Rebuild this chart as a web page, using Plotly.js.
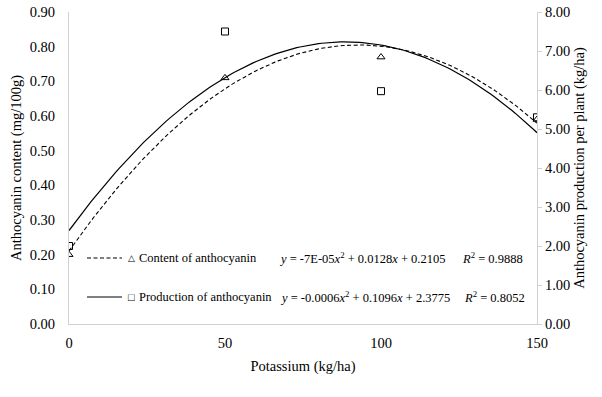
<!DOCTYPE html>
<html><head><meta charset="utf-8">
<script src="https://cdn.plot.ly/plotly-3.0.1.min.js"></script>
<style>html,body{margin:0;padding:0;background:#fff}
#chart text, #chart tspan { font-family: 'Liberation Serif', 'Times New Roman', serif !important; }
#chart text.sym, #chart .sym text { font-family: 'DejaVu Sans' !important; }
</style>
</head><body>
<div id="chart"></div>
<script>
// Data
const potassium = [0, 50, 100, 150];
const anthocyaninContent = [0.20, 0.71, 0.77, 0.59];      // mg/100g, left axis
const anthocyaninProduction = [2.0, 7.5, 5.97, 5.3];      // kg/ha, right axis
const leftTicks = [0, 0.1, 0.2, 0.3, 0.4, 0.5, 0.6, 0.7, 0.8, 0.9];
const rightTicks = [0, 1, 2, 3, 4, 5, 6, 7, 8];
const xTicks = [0, 50, 100, 150];
const seriesNames = ['Content of anthocyanin', 'Production of anthocyanin'];
const equations = ['<i>y</i> = -7E-05<i>x</i><sup>2</sup> + 0.0128<i>x</i> + 0.2105',
                   '<i>y</i> = -0.0006<i>x</i><sup>2</sup> + 0.1096<i>x</i> + 2.3775'];
const rSquared = ['<i>R</i><sup>2</sup> = 0.9888', '<i>R</i><sup>2</sup> = 0.8052'];

// quadratic least squares fit
function quadFit(xs, ys) {
  let S = [0,0,0,0,0], T = [0,0,0];
  xs.forEach((x, i) => {
    for (let k = 0; k < 5; k++) S[k] += Math.pow(x, k);
    for (let k = 0; k < 3; k++) T[k] += Math.pow(x, k) * ys[i];
  });
  const M = [[S[0],S[1],S[2],T[0]],[S[1],S[2],S[3],T[1]],[S[2],S[3],S[4],T[2]]];
  for (let i = 0; i < 3; i++) {
    for (let j = i+1; j < 3; j++) {
      const f = M[j][i] / M[i][i];
      for (let k = i; k < 4; k++) M[j][k] -= f * M[i][k];
    }
  }
  const c = [0,0,0];
  for (let i = 2; i >= 0; i--) {
    let s = M[i][3];
    for (let k = i+1; k < 3; k++) s -= M[i][k] * c[k];
    c[i] = s / M[i][i];
  }
  return c;
}
function curve(coef) {
  const xs = [], ys = [];
  for (let x = 0; x <= 150; x += 1) { xs.push(x); ys.push(coef[0] + coef[1]*x + coef[2]*x*x); }
  return {xs, ys};
}
const c1 = curve(quadFit(potassium, anthocyaninContent));
const c2 = curve(quadFit(potassium, anthocyaninProduction));

const font = 'Times New Roman';
const FS = 14.5, LFS = 12.5;
const traces = [
  {x: c1.xs, y: c1.ys, mode: 'lines', line: {color: '#000', width: 1.1, dash: '4px,2.5px'}, yaxis: 'y', hoverinfo: 'skip', showlegend: false},
  {x: c2.xs, y: c2.ys, mode: 'lines', line: {color: '#000', width: 1.2}, yaxis: 'y2', hoverinfo: 'skip', showlegend: false},
  {x: potassium, y: anthocyaninContent, mode: 'markers', yaxis: 'y', showlegend: false,
   marker: {symbol: 'triangle-up-open', size: 7, color: '#000', line: {width: 1, color: '#000'}}},
  {x: potassium, y: anthocyaninProduction, mode: 'markers', yaxis: 'y2', showlegend: false,
   marker: {symbol: 'square-open', size: 7, color: '#000', line: {width: 1, color: '#000'}}}
];

const W = 602, H = 397, L = 69, R = 65, T = 12, B = 73;
const pw = W - L - R, ph = H - T - B;
const px = (p) => (p - L) / pw;          // pixel -> paper x
const py = (p) => 1 - (p - T) / ph;       // pixel -> paper y

const rows = [258, 297];
const shapes = [], annotations = [];
rows.forEach((yy, i) => {
  shapes.push({type: 'line', xref: 'paper', yref: 'paper', x0: px(87), x1: px(122), y0: py(yy), y1: py(yy),
    line: {color: '#000', width: 1.1, dash: i === 0 ? '4px,2.5px' : 'solid'}});
  annotations.push({xref: 'paper', yref: 'paper', x: px(131), y: py(yy), text: i === 0 ? '△' : '□',
    showarrow: false, xanchor: 'center', yanchor: 'middle', font: {family: font, size: i === 0 ? 9 : 11, color: '#000'}});
  annotations.push({xref: 'paper', yref: 'paper', x: px(137), y: py(yy), text: seriesNames[i],
    showarrow: false, xanchor: 'left', yanchor: 'middle', font: {family: font, size: LFS, color: '#000'}});
  annotations.push({xref: 'paper', yref: 'paper', x: px(i === 0 ? 277 : 278), y: py(yy), text: equations[i],
    showarrow: false, xanchor: 'left', yanchor: 'middle', font: {family: font, size: LFS, color: '#000'}});
  annotations.push({xref: 'paper', yref: 'paper', x: px(i === 0 ? 460 : 462), y: py(yy), text: rSquared[i],
    showarrow: false, xanchor: 'left', yanchor: 'middle', font: {family: font, size: LFS, color: '#000'}});
});

const tf = {family: font, size: FS, color: '#000'};
const layout = {
  width: W, height: H,
  margin: {l: L, r: R, t: T, b: B},
  paper_bgcolor: '#fff', plot_bgcolor: '#fff',
  font: tf,
  showlegend: false,
  xaxis: {range: [0, 150], tickvals: xTicks, ticktext: xTicks.map(String), showgrid: false, zeroline: false,
    showline: true, linecolor: '#d0d0d0', linewidth: 1, ticks: '', ticklabelstandoff: 6, tickfont: tf,
    title: {text: 'Potassium (kg/ha)', font: tf, standoff: 10}},
  yaxis: {range: [0, 0.9], tickvals: leftTicks, ticktext: leftTicks.map(v => v.toFixed(2)), showgrid: false, zeroline: false,
    showline: true, linecolor: '#d0d0d0', linewidth: 1, ticks: '', ticklabelstandoff: 10, tickfont: tf,
    title: {text: 'Anthocyanin content (mg/100g)', font: tf, standoff: 4}},
  yaxis2: {range: [0, 8], tickvals: rightTicks, ticktext: rightTicks.map(v => v.toFixed(2)), overlaying: 'y', side: 'right',
    showgrid: false, zeroline: false, showline: true, linecolor: '#d0d0d0', linewidth: 1,
    ticks: 'outside', ticklen: 4, tickcolor: '#d0d0d0', tickfont: tf,
    title: {text: 'Anthocyanin production per plant (kg/ha)', font: tf, standoff: 4}},
  shapes, annotations
};
Plotly.newPlot('chart', traces, layout, {displayModeBar: false});
</script></body></html>
